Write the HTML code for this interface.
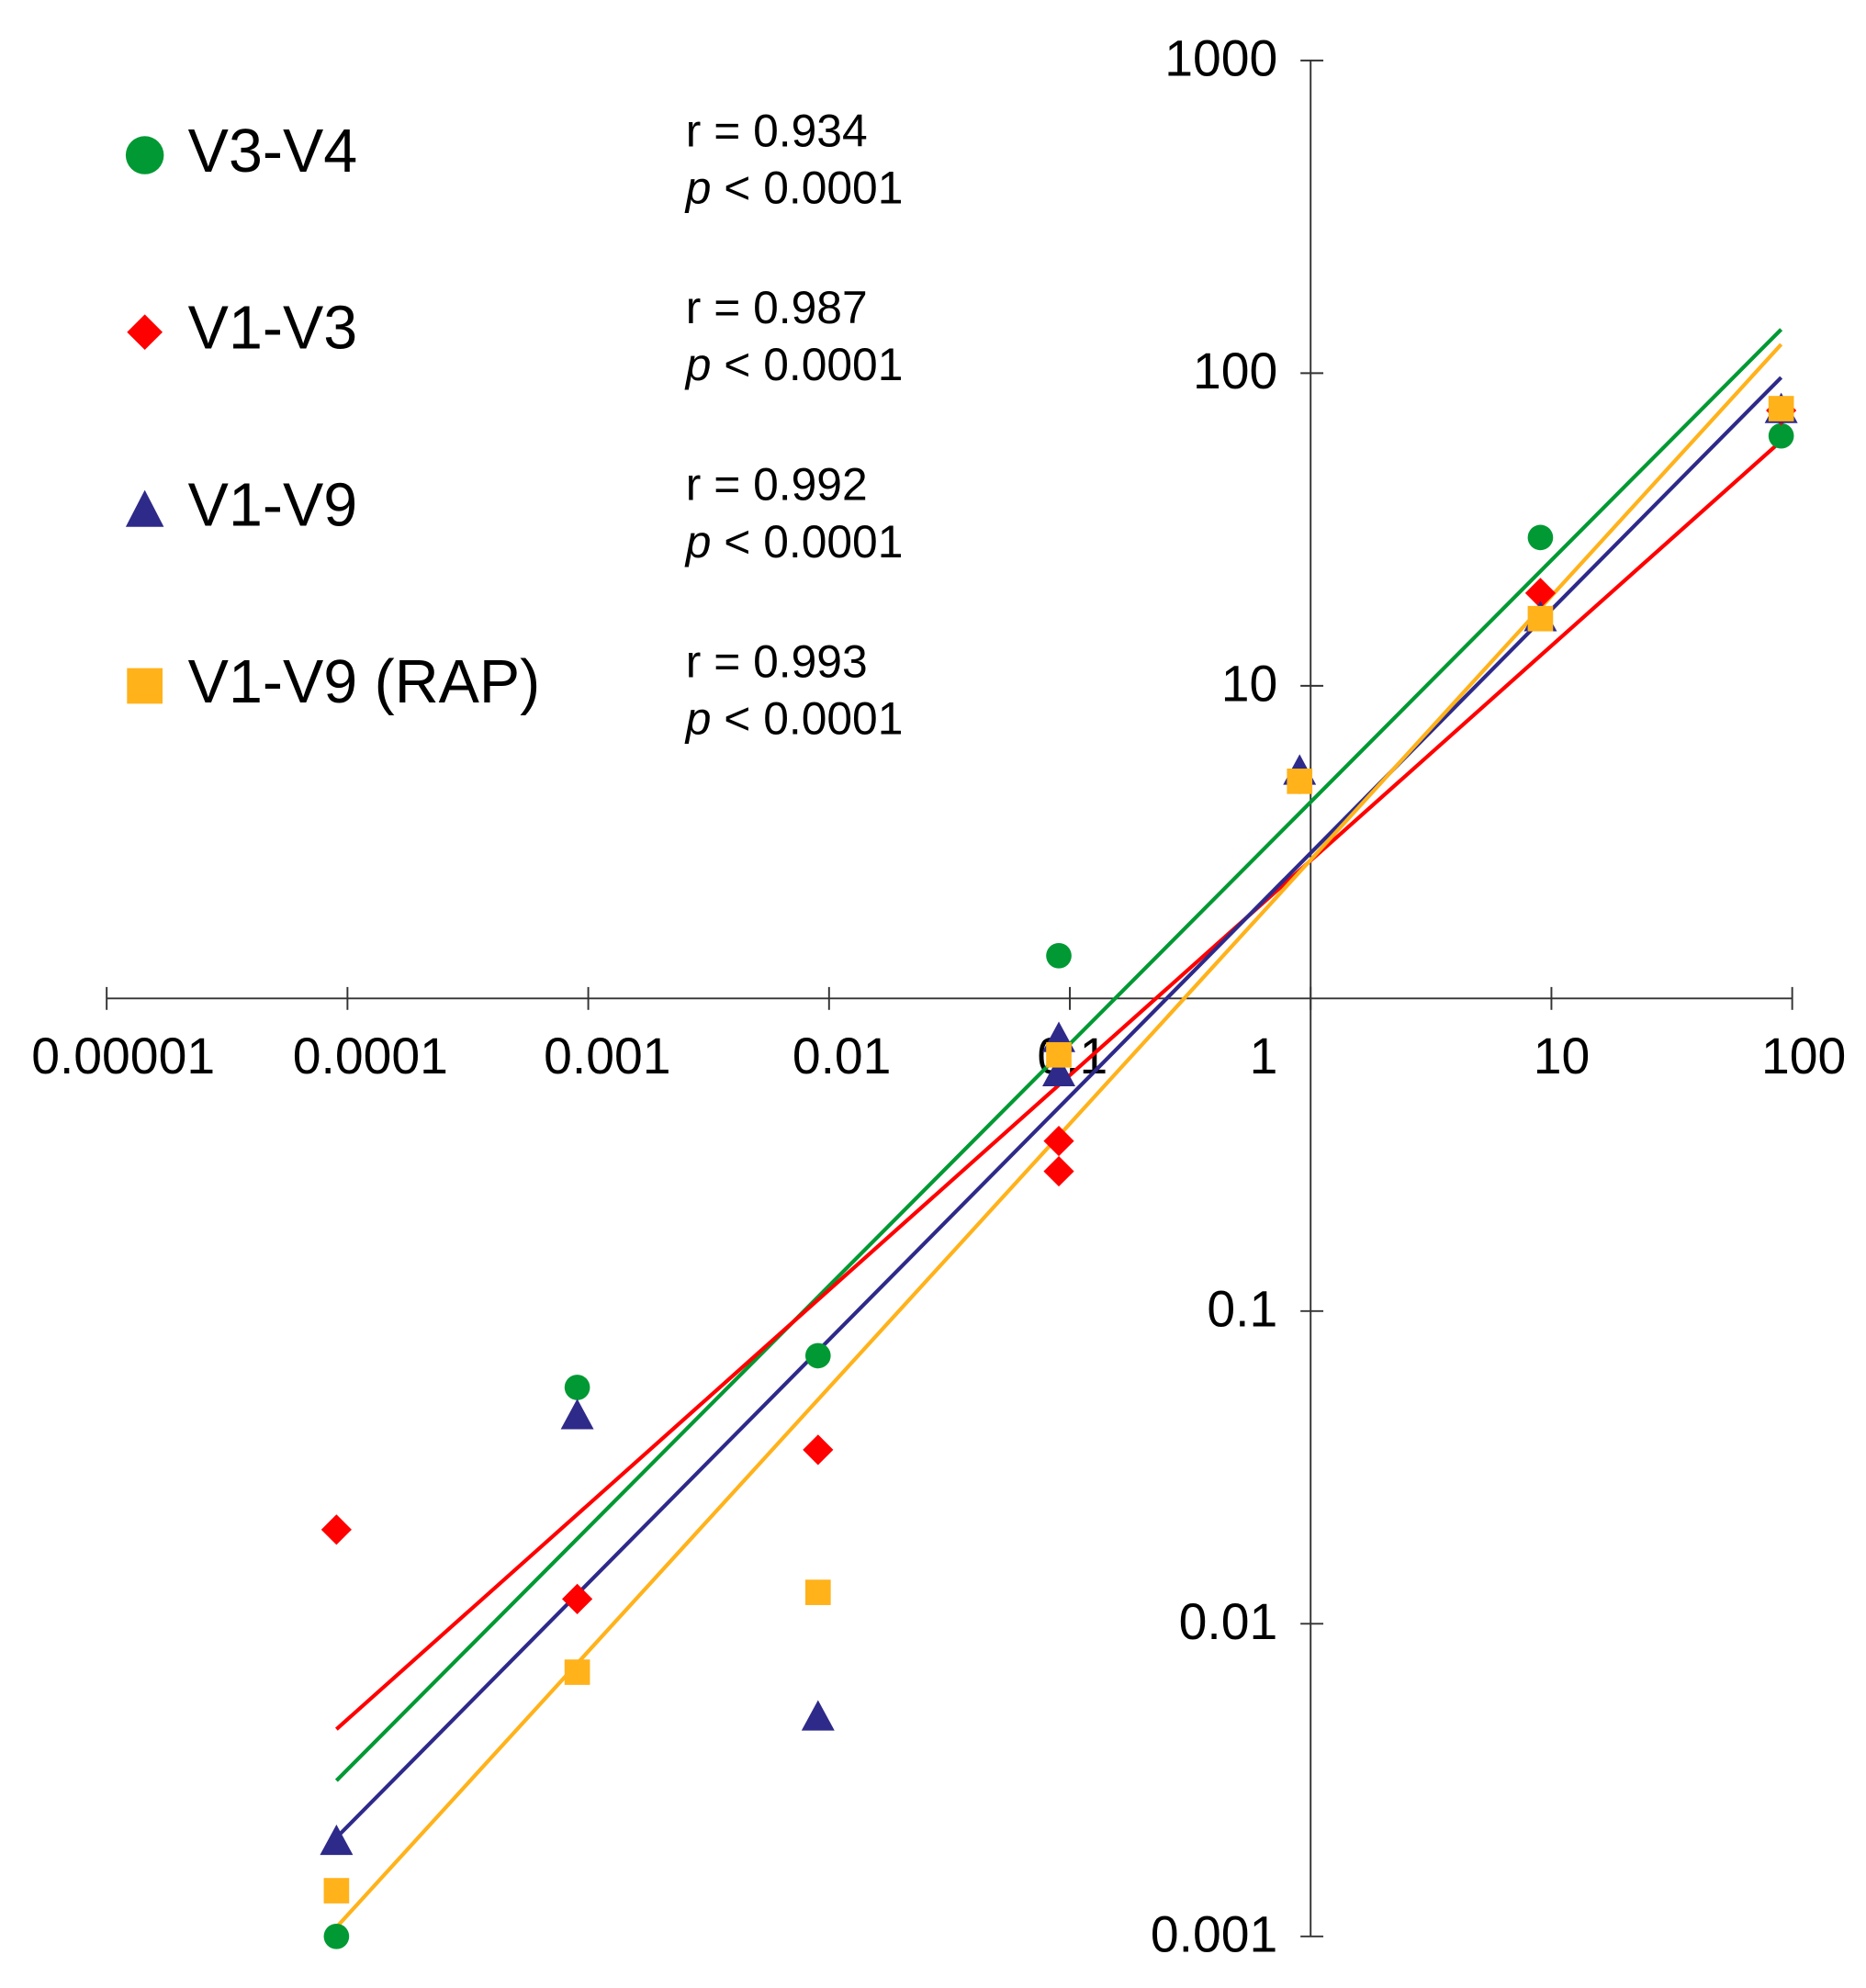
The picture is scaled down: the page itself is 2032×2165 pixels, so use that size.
<!DOCTYPE html>
<html><head><meta charset="utf-8"><style>
html,body{margin:0;padding:0;background:#fff;}
svg{display:block;font-family:"Liberation Sans",Arial,sans-serif;}
</style></head><body>
<svg width="2032" height="2165" viewBox="0 0 1469.3 1565" xmlns="http://www.w3.org/2000/svg">
<g id="axes"></g>
<g id="fits"></g>
<g id="marks"></g>
<g id="legend"></g>
</svg>
<script>
const xTicks = [0.00001,0.0001,0.001,0.01,0.1,1,10,100];
const xTickLabels = ["0.00001","0.0001","0.001","0.01","0.1","1","10","100"];
const yTicks = [1000,100,10,0.1,0.01,0.001];
const yTickLabels = ["1000","100","10","0.1","0.01","0.001"];
const seriesNames = ["V3-V4","V1-V3","V1-V9","V1-V9 (RAP)"];
const seriesColors = ["#009933","#ff0000","#2e2a8a","#ffb21a"];
const seriesR = ["0.934","0.987","0.992","0.993"];
const greenX = [0.00009,0.0009,0.009,0.09,0.9,9,90];
const greenY = [0.001,0.057,0.072,1.37,4.95,29.8,63];
const redX = [0.00009,0.0009,0.009,0.09,0.09,9,90];
const redY = [0.02,0.012,0.036,0.35,0.28,19.8,76];
const blueX = [0.00009,0.0009,0.009,0.09,0.09,0.9,9,90];
const blueY = [0.002,0.046,0.005,0.575,0.74,5.3,16.4,76];
const orangeX = [0.00009,0.0009,0.009,0.09,0.9,9,90];
const orangeY = [0.0014,0.007,0.0126,0.66,4.95,16.4,77];
const fitX = [0.00009,90];
const greenFit = [0.00315,138];
const redFit = [0.0046,60.7];
const blueFit = [0.00207,96.9];
const orangeFit = [0.00107,123.6];

const NS="http://www.w3.org/2000/svg";
const X0=1032, XD=189.6, Y0=786, YD=246.2;
const xs=v=>X0+XD*Math.log10(v);
const ys=v=>Y0-YD*Math.log10(v);
function mk(tag,attrs,parent,text){const e=document.createElementNS(NS,tag);for(const k in attrs)e.setAttribute(k,attrs[k]);if(text!==undefined)e.textContent=text;parent.appendChild(e);return e;}
const axes=document.getElementById('axes');
let l=mk('line',{x1:xs(xTicks[0]),x2:xs(xTicks[xTicks.length-1]),y1:Y0,y2:Y0,stroke:'#333','stroke-width':1.4},axes);


l=mk('line',{x1:X0,x2:X0,y1:ys(1000),y2:ys(0.001),stroke:'#333','stroke-width':1.4},axes);


const xLabOff=[13,18,15,10,2,-37,8,9];
xTicks.forEach((t,i)=>{
  const x=xs(t);
  const tk=mk('line',{x1:x,x2:x,y1:Y0-9,y2:Y0+9,stroke:'#333','stroke-width':1.4},axes);
  
  
  const tx=mk('text',{x:x+xLabOff[i],y:845,'font-size':40,'text-anchor':'middle',fill:'#000'},axes,xTickLabels[i]);
  
  
});
yTicks.forEach((t,i)=>{
  const y=ys(t);
  const tk=mk('line',{x1:X0-8,x2:X0+10,y1:y,y2:y,stroke:'#333','stroke-width':1.4},axes);
  
  
  const tx=mk('text',{x:1006,y:y+12,'font-size':40,'text-anchor':'end',fill:'#000'},axes,yTickLabels[i]);
  
  
});
const fits=document.getElementById('fits');
[greenFit,redFit,blueFit,orangeFit].forEach((f,i)=>{
  const ln=mk('line',{x1:xs(fitX[0]),y1:ys(f[0]),x2:xs(fitX[1]),y2:ys(f[1]),stroke:seriesColors[i],'stroke-width':3},fits);
  
  
});
function marker(type,x,y,color,parent){
  let e;
  if(type===0) e=mk('circle',{cx:x,cy:y,r:10,fill:color},parent);
  else if(type===1) e=mk('polygon',{points:`${x},${y-12} ${x+12},${y} ${x},${y+12} ${x-12},${y}`,fill:color},parent);
  else if(type===2) e=mk('polygon',{points:`${x},${y-14} ${x+13},${y+10} ${x-13},${y+10}`,fill:color},parent);
  else e=mk('rect',{x:x-10,y:y-10,width:20,height:20,fill:color},parent);
  return e;
}
const marks=document.getElementById('marks');
[[greenX,greenY],[redX,redY],[blueX,blueY],[orangeX,orangeY]].forEach((s,i)=>{
  s[0].forEach((xv,j)=>{
    const m=marker(i,xs(xv),ys(s[1][j]),seriesColors[i],marks);
    
    
  });
});
const leg=document.getElementById('legend');
seriesNames.forEach((n,i)=>{
  const y=122+139.3*i;
  const m=marker(i,114,y,seriesColors[i],leg);
  if(i===2){m.setAttribute('points',`114,${y-15} 129,${y+14} 99,${y+14}`);}
  if(i===3){m.setAttribute('x',100);m.setAttribute('y',y-14);m.setAttribute('width',28);m.setAttribute('height',28);}
  if(i===0){m.setAttribute('r',15);}
  if(i===1){m.setAttribute('points',`114,${y-14} 128,${y} 114,${y+14} 100,${y}`);}
  
  
  const t=mk('text',{x:148,y:y+13,'font-size':48,fill:'#000'},leg,n);
  
  
  const r=mk('text',{x:540,y:y-7,'font-size':36,fill:'#000'},leg,'r = '+seriesR[i]);
  
  
  const p=mk('text',{x:540,y:y+38,'font-size':36,fill:'#000'},leg);
  
  
  mk('tspan',{'font-style':'italic'},p,'p');
  mk('tspan',{},p,' < 0.0001');
});
</script>
</body></html>
